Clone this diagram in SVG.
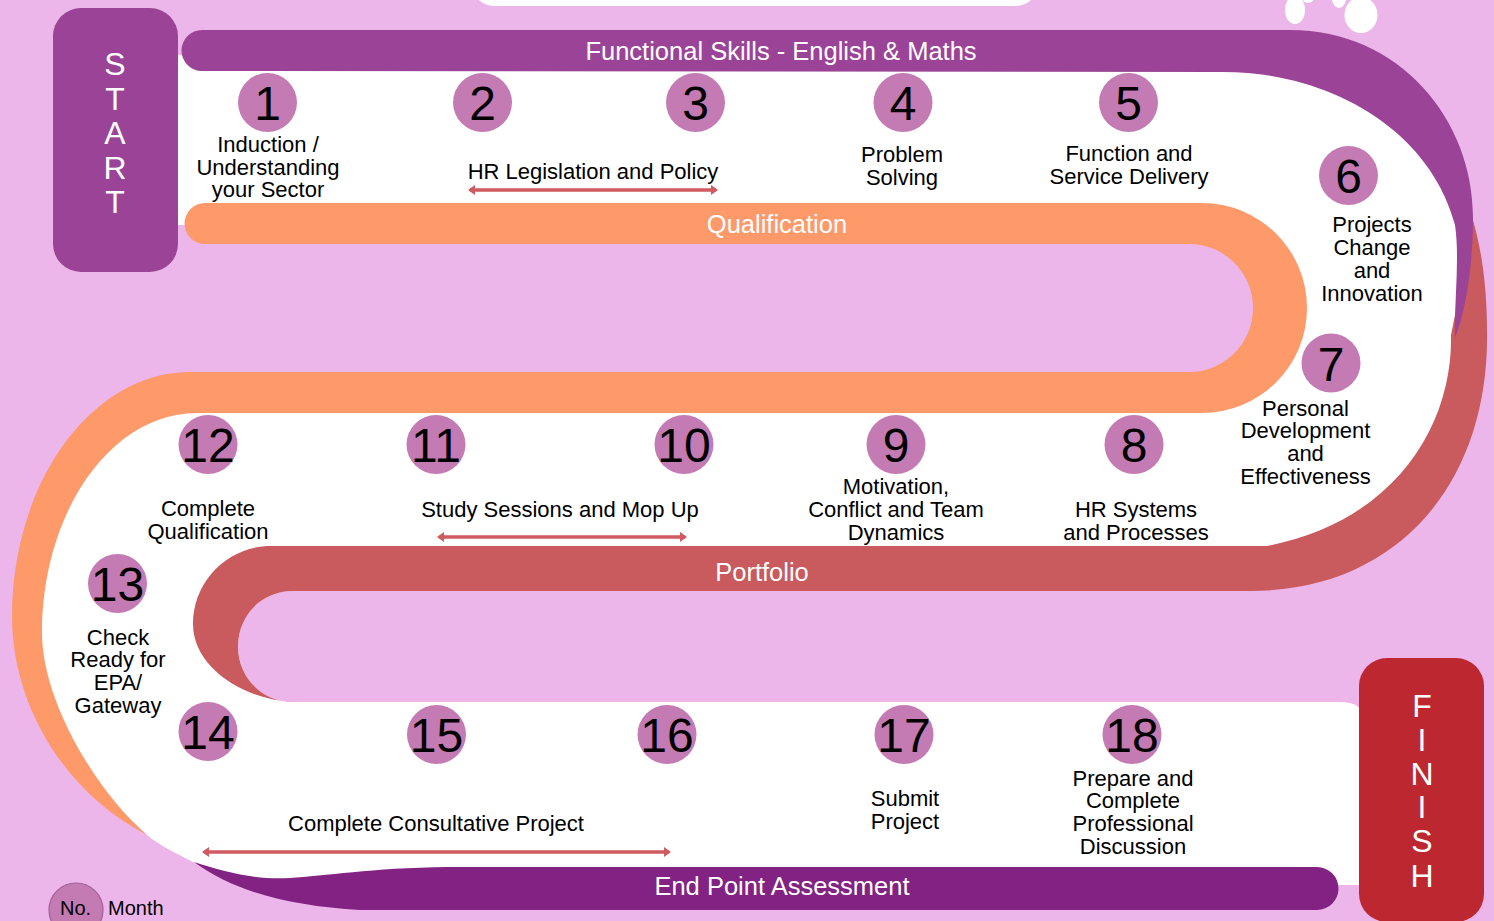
<svg xmlns="http://www.w3.org/2000/svg" width="1494" height="921" viewBox="0 0 1494 921">
<defs>
<style>
.lbl{font-family:"Liberation Sans",Arial,sans-serif;font-size:22px;fill:#000;text-anchor:middle}
.num{font-family:"Liberation Sans",Arial,sans-serif;font-size:48px;fill:#000;text-anchor:middle}
.band{font-family:"Liberation Sans",Arial,sans-serif;font-size:25.5px;fill:#fff;text-anchor:middle}
.side{font-family:"Liberation Sans",Arial,sans-serif;font-size:32px;fill:#fff;text-anchor:middle}
.dot{fill:#C47AB3}
.span{stroke:#CF5A5F;stroke-width:3.5;fill:none;marker-start:url(#head);marker-end:url(#head)}
.bg{fill:#ECB6EA}
</style>
<marker id="head" markerUnits="userSpaceOnUse" markerWidth="10" markerHeight="10" refX="5" refY="5" orient="auto-start-reverse">
<path d="M0,0 L7,5 L0,10 Z" fill="#CF5A5F"/>
</marker>
</defs>

<!-- backdrop -->
<rect class="bg" x="0" y="0" width="1494" height="921"/>
<rect x="472" y="-40" width="566" height="46" rx="22" fill="#fff"/>
<g id="bubbles" fill="#fff">
<ellipse cx="1295" cy="10" rx="10" ry="14"/>
<ellipse cx="1308" cy="-3" rx="6" ry="6"/>
<ellipse cx="1339" cy="-2" rx="7" ry="10"/>
<ellipse cx="1361" cy="15" rx="16.5" ry="18"/>
</g>

<!-- winding white road -->
<path id="road" fill="#fff" d="M178,55 L1290,55 C1400,55 1470,150 1470,300 C1470,460 1390,568 1250,568 L1250,640 L1340,640 Q1362,640 1362,662 L1362,885 L300,885 C262,885 225,876 193,862 C176,853 160,846 147,835 C80,775 28,700 28,620 C28,480 100,392 210,392 L1200,392 C1255,392 1280,350 1280,308 C1280,262 1255,225 1200,225 L178,225 Z"/>
<!-- inner gap of the lower bend -->
<path class="bg" d="M293,591 L1250,591 L1494,555 L1494,712 L1362,712 Q1358,702 1340,702 L293,702 C262,702 238,677 238,647 C238,615 262,591 293,591 Z"/>

<!-- stream bands -->
<g id="bands">
<path id="portfolio-band" fill="#C95A5E" d="M1462,190 C1478,225 1487,275 1487,330 C1490,480 1400,591 1250,591 L293,591 C262,591 238,615 238,647 C238,677 262,702 293,702 C245,700 193,668 193,624 C193,581 228,546 271,546 L1267,546 C1400,520 1453,420 1451,335 L1458,300 L1466,240 Z"/>
<path id="qualification-band" fill="#FE996A" d="M205,203 L1202,203 A105,105 0 0 1 1202,413 L197,413 C111,413 42,512 42,633 C42,700 95,790 147,835 C60,790 12,700 12,617 C12,482 92,372 190,372 L1189,372 A64,64 0 0 0 1189,244 L205,244 A20.5,20.5 0 0 1 205,203 Z"/>
<path id="skills-band" fill="#9B4497" d="M202,30 L1290,30 C1400,30 1473,120 1473,217 C1473,265 1466,310 1455,338 C1454,300 1460,260 1455,225 C1430,130 1330,72 1223,72 L202,71 A20.5,20.5 0 0 1 202,30 Z"/>
<path id="epa-band" fill="#822283" d="M194,862 C225,872 255,880 290,878 C325,876 370,868 448,867 L1317,867 A21.5,21.5 0 0 1 1317,910 L360,910 C290,906 235,892 194,862 Z"/>
<text class="band" x="781" y="60">Functional Skills - English &amp; Maths</text>
<text class="band" x="777" y="233">Qualification</text>
<text class="band" x="762" y="581">Portfolio</text>
<text class="band" x="782" y="895">End Point Assessment</text>
</g>

<!-- start / finish -->
<g id="start">
<rect x="53" y="8" width="125" height="264" rx="28" fill="#9B4497"/>
<text class="side" x="115" y="75">S</text>
<text class="side" x="115" y="110">T</text>
<text class="side" x="115" y="144">A</text>
<text class="side" x="115" y="179">R</text>
<text class="side" x="115" y="213">T</text>
</g>
<g id="finish">
<rect x="1359" y="658" width="125" height="264" rx="28" fill="#BD2830"/>
<text class="side" x="1422" y="717">F</text>
<text class="side" x="1422" y="751">I</text>
<text class="side" x="1422" y="785">N</text>
<text class="side" x="1422" y="818">I</text>
<text class="side" x="1422" y="852">S</text>
<text class="side" x="1422" y="887">H</text>
</g>

<!-- month markers -->
<g id="m1"><circle class="dot" cx="267.5" cy="102.5" r="29.5"/><text class="num" x="267.5" y="120">1</text>
<text class="lbl" x="268" y="152">Induction /</text><text class="lbl" x="268" y="175">Understanding</text><text class="lbl" x="268" y="197">your Sector</text></g>
<g id="m2"><circle class="dot" cx="482.5" cy="102.5" r="29.5"/><text class="num" x="482.5" y="120">2</text></g>
<g id="m3"><circle class="dot" cx="695.5" cy="102.5" r="29.5"/><text class="num" x="695.5" y="120">3</text></g>
<g id="m4"><circle class="dot" cx="903" cy="102.5" r="29.5"/><text class="num" x="903" y="120">4</text>
<text class="lbl" x="902" y="162">Problem</text><text class="lbl" x="902" y="185">Solving</text></g>
<g id="m5"><circle class="dot" cx="1128.5" cy="102.5" r="29.5"/><text class="num" x="1128.5" y="120">5</text>
<text class="lbl" x="1129" y="161">Function and</text><text class="lbl" x="1129" y="184">Service Delivery</text></g>
<g id="m6"><circle class="dot" cx="1348.5" cy="175.5" r="29.5"/><text class="num" x="1348.5" y="193">6</text>
<text class="lbl" x="1372" y="232">Projects</text><text class="lbl" x="1372" y="255">Change</text><text class="lbl" x="1372" y="278">and</text><text class="lbl" x="1372" y="301">Innovation</text></g>
<g id="m7"><circle class="dot" cx="1331" cy="363" r="29.5"/><text class="num" x="1331" y="380.5">7</text>
<text class="lbl" x="1305.5" y="416">Personal</text><text class="lbl" x="1305.5" y="438">Development</text><text class="lbl" x="1305.5" y="461">and</text><text class="lbl" x="1305.5" y="484">Effectiveness</text></g>
<g id="m8"><circle class="dot" cx="1134" cy="444.5" r="29.5"/><text class="num" x="1134" y="462">8</text>
<text class="lbl" x="1136" y="517">HR Systems</text><text class="lbl" x="1136" y="540">and Processes</text></g>
<g id="m9"><circle class="dot" cx="896" cy="444.5" r="29.5"/><text class="num" x="896" y="462">9</text>
<text class="lbl" x="896" y="494">Motivation,</text><text class="lbl" x="896" y="517">Conflict and Team</text><text class="lbl" x="896" y="540">Dynamics</text></g>
<g id="m10"><circle class="dot" cx="684" cy="444.5" r="29.5"/><text class="num" x="684" y="462">10</text></g>
<g id="m11"><circle class="dot" cx="436" cy="444.5" r="29.5"/><text class="num" x="436" y="462">11</text></g>
<g id="m12"><circle class="dot" cx="208" cy="444.5" r="29.5"/><text class="num" x="208" y="462">12</text>
<text class="lbl" x="208" y="516">Complete</text><text class="lbl" x="208" y="539">Qualification</text></g>
<g id="m13"><circle class="dot" cx="117.5" cy="583.5" r="29.5"/><text class="num" x="117.5" y="601">13</text>
<text class="lbl" x="118" y="645">Check</text><text class="lbl" x="118" y="667">Ready for</text><text class="lbl" x="118" y="690">EPA/</text><text class="lbl" x="118" y="713">Gateway</text></g>
<g id="m14"><circle class="dot" cx="208" cy="731.5" r="29.5"/><text class="num" x="208" y="749">14</text></g>
<g id="m15"><circle class="dot" cx="436.5" cy="734.5" r="29.5"/><text class="num" x="436.5" y="752">15</text></g>
<g id="m16"><circle class="dot" cx="667" cy="734.5" r="29.5"/><text class="num" x="667" y="752">16</text></g>
<g id="m17"><circle class="dot" cx="904" cy="734.5" r="29.5"/><text class="num" x="904" y="752">17</text>
<text class="lbl" x="905" y="806">Submit</text><text class="lbl" x="905" y="829">Project</text></g>
<g id="m18"><circle class="dot" cx="1132" cy="734.5" r="29.5"/><text class="num" x="1132" y="752">18</text>
<text class="lbl" x="1133" y="786">Prepare and</text><text class="lbl" x="1133" y="808">Complete</text><text class="lbl" x="1133" y="831">Professional</text><text class="lbl" x="1133" y="854">Discussion</text></g>

<!-- span labels -->
<g id="span-labels">
<text class="lbl" x="593" y="179">HR Legislation and Policy</text>
<text class="lbl" x="560" y="517">Study Sessions and Mop Up</text>
<text class="lbl" x="436" y="831">Complete Consultative Project</text>
</g>

<!-- duration spans -->
<g id="connectors">
<line class="span" x1="470" y1="190" x2="716" y2="190"/>
<line class="span" x1="439" y1="537" x2="685" y2="537"/>
<line class="span" x1="204" y1="852" x2="669" y2="852"/>
</g>

<!-- key -->
<g id="legend">
<circle cx="76" cy="910" r="27" fill="#C47AB3" stroke="#A0609A" stroke-width="1.2"/>
<text x="75.5" y="915" font-family="Liberation Sans, Arial, sans-serif" font-size="20" text-anchor="middle">No.</text>
<text x="108" y="915" font-family="Liberation Sans, Arial, sans-serif" font-size="20">Month</text>
</g>
</svg>
